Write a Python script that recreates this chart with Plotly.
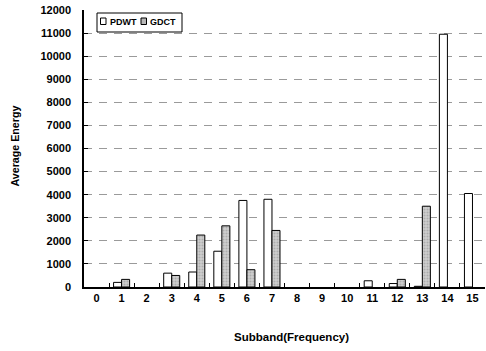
import plotly.graph_objects as go

categories = [str(i) for i in range(16)]
pdwt = [0, 200, 0, 600, 650, 1550, 3750, 3800, 0, 0, 0, 270, 150, 30, 10950, 4050]
gdct = [0, 330, 0, 500, 2250, 2650, 750, 2450, 0, 0, 0, 0, 330, 3500, 0, 0]
y_ticks = list(range(0, 12001, 1000))
series_names = ["PDWT", "GDCT"]

font = "Liberation Sans, Arial, sans-serif"
PW = 401.0  # plot width px
PH = 277.0  # plot height px


def hide_zero(vals):
    return [v if v else None for v in vals]


fig = go.Figure()
fig.add_trace(go.Bar(
    x=categories, y=hide_zero(pdwt), name=series_names[0],
    marker=dict(color="white", line=dict(color="black", width=1)),
))
fig.add_trace(go.Bar(
    x=categories, y=hide_zero(gdct), name=series_names[1],
    marker=dict(color="#c4c4c4", line=dict(color="black", width=1),
                pattern=dict(shape=".", fgcolor="#8a8a8a", bgcolor="#d0d0d0", size=3, solidity=0.4)),
))

fig.update_layout(
    width=486, height=351,
    margin=dict(l=84, r=1, t=10, b=64, autoexpand=False),
    paper_bgcolor="white", plot_bgcolor="white",
    barmode="group", bargap=0.36, bargroupgap=0,
    font=dict(family=font, size=11, color="black"),
    showlegend=False,
)
fig.update_xaxes(
    type="category", categoryorder="array", categoryarray=categories,
    tickvals=categories, ticktext=[f"<b>{c}</b>" for c in categories],
    tickson="boundaries", ticks="inside", ticklen=4, tickcolor="black",
    showline=True, linecolor="black", linewidth=1.5,
    showgrid=False, tickfont=dict(size=11), automargin=False,
)
fig.update_yaxes(
    range=[0, 12000], tickvals=y_ticks, ticktext=[f"<b>{v}</b>" for v in y_ticks],
    ticks="inside", ticklen=4, tickcolor="black",
    showline=True, linecolor="black", linewidth=1.5,
    showgrid=True, gridcolor="#9a9a9a", gridwidth=1, griddash="8px,7px",
    zeroline=False, tickfont=dict(size=11), automargin=False,
    ticklabeloverflow="allow", ticklabelstandoff=9,
)

# axis titles
fig.add_annotation(text="<b>Average Energy</b>", xref="paper", yref="paper",
                   x=-69 / PW, y=0.507, xanchor="center", yanchor="middle",
                   textangle=-90, showarrow=False, font=dict(size=10.7))
fig.add_annotation(text="<b>Subband(Frequency)</b>", xref="paper", yref="paper",
                   x=(291.5 - 84) / PW, y=-50 / PH, xanchor="center", yanchor="middle",
                   showarrow=False, font=dict(size=11.5))


def px(xp):
    return (xp - 84) / PW


def py(yp):
    return 1 - (yp - 10) / PH


# legend box (drawn manually to match the compact original)
fig.add_shape(type="rect", xref="paper", yref="paper",
              x0=px(97), x1=px(182), y0=py(32), y1=py(13),
              line=dict(color="black", width=1), fillcolor="white", layer="above")
fig.add_shape(type="rect", xref="paper", yref="paper",
              x0=px(100.5), x1=px(106), y0=py(24.5), y1=py(18),
              line=dict(color="black", width=1), fillcolor="white", layer="above")
fig.add_shape(type="rect", xref="paper", yref="paper",
              x0=px(141), x1=px(146.5), y0=py(24.5), y1=py(18),
              line=dict(color="black", width=1), fillcolor="#b8b8b8", layer="above")
fig.add_annotation(text=f"<b>{series_names[0]}</b>", xref="paper", yref="paper",
                   x=px(107.5), y=py(21.5), xanchor="left", yanchor="middle",
                   showarrow=False, font=dict(size=9))
fig.add_annotation(text=f"<b>{series_names[1]}</b>", xref="paper", yref="paper",
                   x=px(147.5), y=py(21.5), xanchor="left", yanchor="middle",
                   showarrow=False, font=dict(size=9))

fig.write_html("out.html", config={"displayModeBar": False},
               post_script="document.body.style.margin='0';")
